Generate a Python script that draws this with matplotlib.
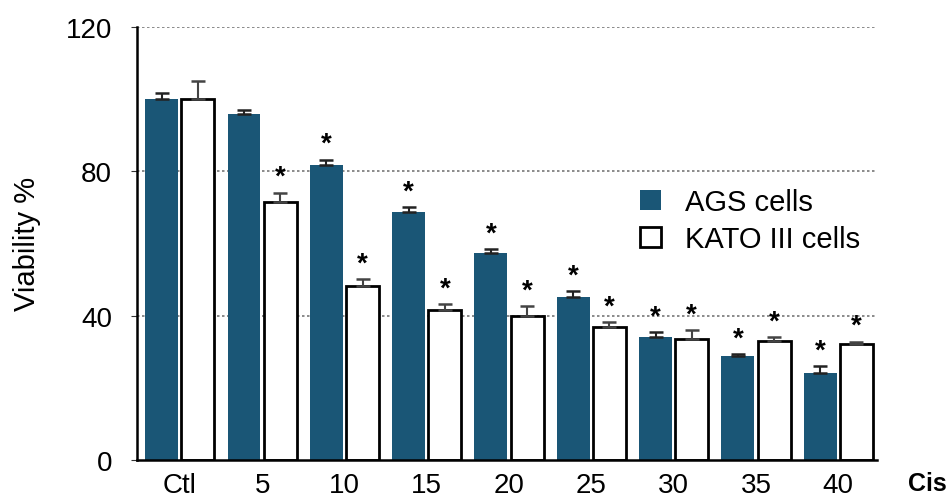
import matplotlib.pyplot as plt
import numpy as np

plt.rcParams['font.family'] = ['Liberation Sans', 'DejaVu Sans']

# data
doses = ['Ctl', '5', '10', '15', '20', '25', '30', '35', '40']
ags = [100, 95.7, 81.8, 68.6, 57.2, 45.0, 34.1, 28.8, 24.2]
ags_err = [1.5, 1.3, 1.3, 1.4, 1.1, 1.7, 1.3, 0.5, 1.7]
kato = [100, 71.3, 48.1, 41.5, 40.0, 36.8, 33.5, 32.9, 32.2]
kato_err = [5.0, 2.7, 2.0, 1.6, 2.5, 1.3, 2.4, 1.1, 0.5]
ags_sig = [False, False, True, True, True, True, True, True, True]
kato_sig = [False, True, True, True, True, True, True, True, True]

x = np.arange(len(doses))
w = 0.40
off = 0.22
blue = '#1a5676'

fig = plt.figure(figsize=(9.47, 5.02), dpi=100)
ax = fig.add_axes([0.1447, 0.0817, 0.7813, 0.8633])

for y in [40, 80, 120]:
    ax.axhline(y, color='#777777', lw=1.2, ls=(0, (1.5, 1.5)), zorder=0)

ax.bar(x - off, ags, w, color=blue, edgecolor='none', label='AGS cells', zorder=2)
ax.bar(x + off, kato, w, color='white', edgecolor='black', linewidth=2,
       label='KATO III cells', zorder=2)
ax.errorbar(x - off, ags, yerr=[np.zeros(len(ags)), ags_err], fmt='none',
            ecolor='#222222', elinewidth=1.5, capsize=5, capthick=1.8, zorder=3)
ax.errorbar(x + off, kato, yerr=[np.zeros(len(kato)), kato_err], fmt='none',
            ecolor='#444444', elinewidth=1.5, capsize=5, capthick=1.8, zorder=3)

for i in range(len(doses)):
    if ags_sig[i]:
        ax.annotate('*', (x[i] - off, ags[i] + ags_err[i]), xytext=(0, 2),
                    textcoords='offset points', ha='center', va='bottom',
                    fontsize=20, fontweight='bold')
    if kato_sig[i]:
        ax.annotate('*', (x[i] + off, kato[i] + kato_err[i]), xytext=(0, 2),
                    textcoords='offset points', ha='center', va='bottom',
                    fontsize=20, fontweight='bold')

ax.set_xlim(-0.52, 8.47)
ax.set_ylim(0, 120)
ax.set_yticks([0, 40, 80, 120])
ax.set_xticks(x)
ax.set_xticklabels(doses)
ax.tick_params(axis='both', labelsize=20, color='#333333')
ax.tick_params(axis='x', length=0, pad=9)
ax.tick_params(axis='y', length=4, pad=14)
ax.spines['top'].set_visible(False)
ax.spines['right'].set_visible(False)
ax.spines['left'].set_linewidth(1.8)
ax.spines['bottom'].set_linewidth(1.8)
ax.set_ylabel('Viability %', fontsize=21, labelpad=18)

ax.legend(loc='upper left', bbox_to_anchor=(0.68, 0.627), frameon=False,
          fontsize=21, handlelength=0.7, handleheight=0.7, handletextpad=0.85,
          labelspacing=0.3, borderpad=0, borderaxespad=0)

fig.text(0.959, 0.035, 'Cis', fontsize=18, fontweight='bold', ha='left', va='center')

fig.savefig('out.png', dpi=100)
